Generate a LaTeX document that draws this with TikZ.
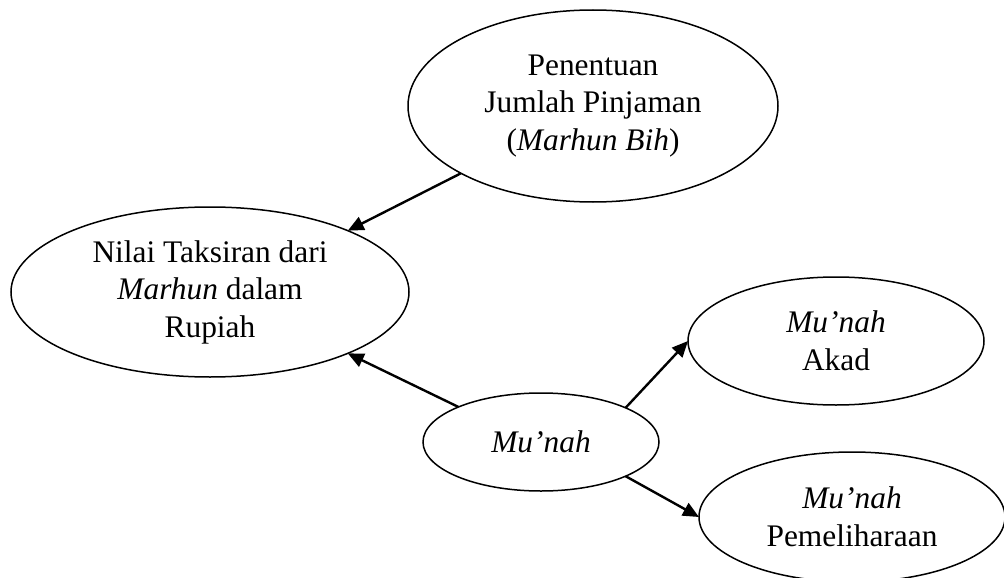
\documentclass[tikz,border=0pt]{standalone}
\usepackage{fontspec}
\setmainfont{Liberation Serif}
\usetikzlibrary{shapes.geometric,arrows.meta}
\tikzset{
  oval/.style={ellipse, draw, line width=1.5pt, inner sep=0pt, outer sep=0pt, align=center,
    font=\fontsize{31.4}{37.5}\selectfont},
  link/.style={line width=2.4pt, -{Triangle[length=16pt,width=14pt]}}
}
\begin{document}
\begin{tikzpicture}[x=1pt,y=-1pt]
\useasboundingbox (0,0) rectangle (1004,578);
\clip (0,0) rectangle (1004,578);
\node[oval, minimum width=370pt, minimum height=192pt] (pen) at (593,106)
  {Penentuan\\Jumlah Pinjaman\\(\textit{Marhun Bih})};
\node[oval, minimum width=398pt, minimum height=170pt] (nilai) at (210,292)
  {Nilai Taksiran dari\\\textit{Marhun} dalam\\Rupiah};
\node[oval, minimum width=236pt, minimum height=98pt] (munah) at (541,442)
  {\textit{Mu'nah}};
\node[oval, minimum width=296pt, minimum height=128pt] (akad) at (836,341)
  {\textit{Mu'nah}\\Akad};
\node[oval, minimum width=306pt, minimum height=130pt] (pem) at (852,517)
  {\textit{Mu'nah}\\Pemeliharaan};
\draw[link] (pen.207.6) -- (nilai.24.6);
\draw[link] (munah.157.1) -- (nilai.-24.9);
\draw[link] (munah.22.6) -- (akad.180);
\draw[link] (munah.-22.6) -- (pem.180);
\end{tikzpicture}
\end{document}
